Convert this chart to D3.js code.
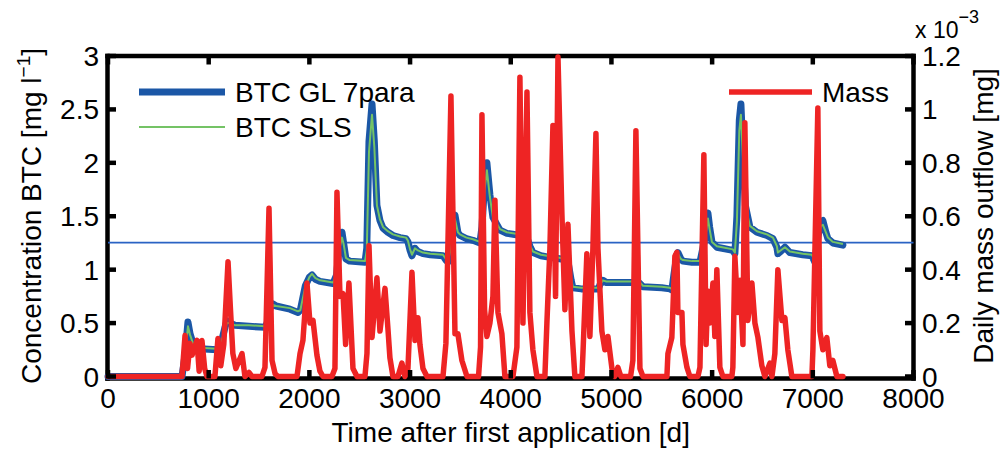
<!DOCTYPE html>
<html><head><meta charset="utf-8">
<script src="https://cdn.jsdelivr.net/npm/d3@7"></script>
<style>html,body{margin:0;padding:0;background:#fff;} svg{display:block;} text{font-family:"Liberation Sans",Arial,Helvetica,sans-serif;fill:#000;}</style>
</head><body>
<svg id="chart" width="1002" height="451"></svg>
<script>
// ---- data ----
const xTicks = [0,1000,2000,3000,4000,5000,6000,7000,8000];
const leftTicks = [0,0.5,1,1.5,2,2.5,3];
const leftTickLabels = ["0","0.5","1","1.5","2","2.5","3"];
const rightTicks = [0,0.2,0.4,0.6,0.8,1,1.2];
const rightTickLabels = ["0","0.2","0.4","0.6","0.8","1","1.2"];
const seriesNames = ["BTC GL 7para","BTC SLS","Mass"];
const refLevel = 1.253; // horizontal reference line, concentration units

// BTC GL 7para: [time d, conc mg/l]
const btcGL = [[0,0],[735,0],[765,0.2],[794,0.51],[815,0.4],[844,0.31],[870,0.27],[914,0.26],[1082,0.25],[1120,0.3],[1162,0.46],[1181,0.52],[1210,0.5],[1261,0.48],[1400,0.47],[1559,0.46],[1580,0.5],[1610,0.64],[1638,0.68],[1670,0.66],[1807,0.63],[1887,0.6],[1910,0.62],[1960,0.85],[2000,0.93],[2026,0.95],[2060,0.91],[2105,0.89],[2234,0.87],[2270,0.95],[2300,1.25],[2324,1.35],[2340,1.25],[2363,1.1],[2400,1.08],[2552,1.07],[2570,1.2],[2592,2.2],[2622,2.55],[2645,2.2],[2671,1.6],[2701,1.46],[2731,1.39],[2780,1.35],[2830,1.32],[2900,1.3],[2960,1.29],[2979,1.26],[3000,1.18],[3019,1.13],[3049,1.2],[3078,1.17],[3128,1.15],[3200,1.14],[3327,1.13],[3356,1.09],[3376,1.07],[3400,1.2],[3426,1.45],[3446,1.51],[3475,1.35],[3495,1.32],[3560,1.29],[3624,1.275],[3694,1.25],[3714,1.4],[3740,1.8],[3763,2.0],[3793,1.7],[3823,1.49],[3893,1.37],[3962,1.34],[4100,1.32],[4161,1.3],[4190,1.22],[4220,1.16],[4300,1.13],[4360,1.12],[4500,1.1],[4568,1.08],[4600,0.9],[4617,0.83],[4700,0.82],[4870,0.82],[4886,0.86],[4915,0.9],[4950,0.88],[5213,0.88],[5283,0.87],[5313,0.84],[5500,0.83],[5580,0.82],[5600,0.81],[5620,0.95],[5650,1.14],[5660,1.16],[5690,1.1],[5710,1.08],[5800,1.07],[5879,1.07],[5930,1.3],[5958,1.53],[5975,1.4],[5998,1.26],[6047,1.21],[6100,1.2],[6206,1.18],[6226,1.15],[6246,1.5],[6270,2.4],[6286,2.55],[6306,2.1],[6330,1.6],[6375,1.4],[6445,1.35],[6544,1.32],[6604,1.29],[6643,1.21],[6653,1.15],[6680,1.17],[6723,1.21],[6772,1.16],[6900,1.14],[6991,1.13],[7021,1.07],[7050,1.3],[7080,1.45],[7100,1.46],[7130,1.35],[7150,1.29],[7199,1.25],[7299,1.23]];

// BTC SLS: [time d, conc mg/l]
const btcSLS = [[0,0],[735,0],[765,0.18],[794,0.47],[815,0.39],[844,0.31],[870,0.28],[914,0.27],[1082,0.26],[1120,0.3],[1162,0.45],[1181,0.5],[1210,0.5],[1261,0.48],[1400,0.48],[1559,0.47],[1580,0.5],[1610,0.63],[1638,0.67],[1670,0.66],[1807,0.64],[1887,0.61],[1910,0.62],[1960,0.84],[2000,0.93],[2026,0.96],[2060,0.92],[2105,0.9],[2234,0.88],[2270,0.94],[2300,1.2],[2324,1.3],[2340,1.24],[2363,1.11],[2400,1.09],[2552,1.08],[2570,1.18],[2592,2.1],[2622,2.45],[2645,2.15],[2671,1.6],[2701,1.47],[2731,1.4],[2780,1.36],[2830,1.33],[2900,1.31],[2960,1.3],[2979,1.27],[3000,1.19],[3019,1.14],[3049,1.2],[3078,1.18],[3128,1.16],[3200,1.15],[3327,1.14],[3356,1.1],[3376,1.08],[3400,1.18],[3426,1.42],[3446,1.47],[3475,1.35],[3495,1.33],[3560,1.3],[3624,1.285],[3694,1.26],[3714,1.38],[3740,1.75],[3763,1.93],[3793,1.68],[3823,1.49],[3893,1.38],[3962,1.35],[4100,1.33],[4161,1.31],[4190,1.23],[4220,1.17],[4300,1.14],[4360,1.13],[4500,1.11],[4568,1.09],[4600,0.91],[4617,0.84],[4700,0.83],[4870,0.83],[4886,0.86],[4915,0.9],[4950,0.89],[5213,0.89],[5283,0.88],[5313,0.85],[5500,0.84],[5580,0.83],[5600,0.82],[5620,0.94],[5650,1.12],[5660,1.15],[5690,1.1],[5710,1.09],[5800,1.08],[5879,1.08],[5930,1.28],[5958,1.48],[5975,1.38],[5998,1.26],[6047,1.22],[6100,1.21],[6206,1.19],[6226,1.16],[6246,1.45],[6270,2.3],[6286,2.45],[6306,2.05],[6330,1.6],[6375,1.41],[6445,1.36],[6544,1.33],[6604,1.3],[6643,1.22],[6653,1.16],[6680,1.18],[6723,1.21],[6772,1.17],[6900,1.15],[6991,1.14],[7021,1.08],[7050,1.28],[7080,1.41],[7100,1.42],[7130,1.35],[7150,1.3],[7199,1.26],[7299,1.24]];

// Mass: [time d, daily mass outflow x 10^-3 mg]
const mass = [[0,0],[735,0],[765,0.154],[790,0.03],[814,0.124],[835,0.08],[884,0.135],[905,0.02],[933,0.135],[960,0.03],[983,0],[1062,0],[1092,0.142],[1120,0.04],[1150,0.12],[1192,0.43],[1215,0.26],[1240,0.086],[1270,0.03],[1331,0.086],[1360,0],[1400,0.015],[1430,0],[1529,0],[1559,0.034],[1599,0.63],[1629,0.06],[1660,0.01],[1688,0],[1877,0],[1907,0.086],[1936,0.135],[1976,0.35],[2006,0.2],[2036,0.21],[2075,0.08],[2105,0.02],[2135,0],[2224,0],[2254,0.03],[2274,0.69],[2304,0.3],[2334,0.31],[2360,0.12],[2393,0.35],[2433,0.03],[2473,0],[2552,0],[2572,0.086],[2592,0.49],[2622,0.146],[2671,0.37],[2701,0.17],[2751,0.33],[2780,0.18],[2800,0.07],[2830,0],[2880,0],[2919,0.05],[2949,0],[2979,0.03],[3019,0.39],[3049,0.135],[3078,0.22],[3098,0.12],[3128,0.03],[3168,0],[3327,0],[3356,0.124],[3406,1.05],[3446,0.16],[3475,0.16],[3515,0.06],[3565,0],[3680,0],[3700,0.11],[3714,0.98],[3740,0.25],[3763,0.15],[3793,0.2],[3823,0.3],[3843,0.66],[3873,0.24],[3912,0.16],[3942,0],[4022,0],[4061,0.11],[4091,1.12],[4121,0.2],[4161,1.065],[4190,0.24],[4220,0.1],[4260,0],[4339,0],[4359,0.2],[4389,0.48],[4419,0.94],[4445,0.3],[4469,1.196],[4508,0.61],[4538,0.25],[4568,0.57],[4608,0.17],[4637,0],[4707,0],[4717,0.086],[4756,0.46],[4786,0.15],[4816,0.48],[4846,0.91],[4866,0.48],[4905,0.17],[4935,0.1],[4965,0.15],[5005,0.03],[5034,0],[5064,0.034],[5094,0],[5190,0],[5213,0.06],[5243,0.92],[5283,0.03],[5313,0],[5551,0],[5561,0.086],[5600,0.146],[5630,0.45],[5650,0.465],[5660,0.24],[5700,0.24],[5710,0.12],[5750,0.034],[5779,0],[5859,0],[5879,0.034],[5918,0.83],[5940,0.12],[5958,0.32],[5978,0.2],[6008,0.35],[6027,0.15],[6047,0.4],[6077,0.034],[6107,0],[6196,0],[6206,0.034],[6226,0.45],[6256,0.24],[6276,0.36],[6306,0.12],[6325,0.95],[6355,0.21],[6395,0.35],[6425,0.2],[6455,0.146],[6494,0.04],[6524,0],[6574,0.05],[6594,0],[6623,0.086],[6653,0.4],[6693,0.21],[6723,0.22],[6752,0.1],[6792,0],[6991,0],[7001,0.1],[7050,1.005],[7070,0.17],[7100,0.1],[7139,0.146],[7169,0.04],[7199,0.06],[7239,0],[7299,0]];

// ---- drawing ----
const W = 1002, H = 451;
const L = 108, R = 913.5, T = 56, B = 376.5;
const svg = d3.select("#chart");
svg.append("rect").attr("width",W).attr("height",H).attr("fill","#fff");

const x = d3.scaleLinear().domain([0,8000]).range([L,R]);
const yL = d3.scaleLinear().domain([0,3]).range([B,T]);
const yR = d3.scaleLinear().domain([0,1.2]).range([B,T]);

const cBlue = "#1b57a6", cGreen = "#74c365", cRed = "#ee2424", cRef = "#2a63c4";
const FS = 28;

// box lines
const box = svg.append("g").attr("stroke","#000").attr("stroke-width",4.5).attr("stroke-linecap","square");
box.append("line").attr("x1",L-0.5).attr("x2",R).attr("y1",B+2).attr("y2",B+2);
box.append("line").attr("x1",L-0.5).attr("x2",R).attr("y1",T).attr("y2",T);
box.append("line").attr("x1",L-0.5).attr("x2",L-0.5).attr("y1",T).attr("y2",B+2);
box.append("line").attr("x1",R).attr("x2",R).attr("y1",T).attr("y2",B+2);

// reference line
svg.append("line").attr("x1",x(0)).attr("x2",x(8000)).attr("y1",yL(refLevel)).attr("y2",yL(refLevel))
  .attr("stroke",cRef).attr("stroke-width",1.6);

const lineL = d3.line().x(d=>x(d[0])).y(d=>yL(d[1]));
const lineR = d3.line().x(d=>x(d[0])).y(d=>yR(d[1]));

svg.append("path").datum(btcGL).attr("d",lineL).attr("fill","none").attr("stroke",cBlue)
  .attr("stroke-width",7).attr("stroke-linejoin","round").attr("stroke-linecap","round");
svg.append("path").datum(btcSLS).attr("d",lineL).attr("fill","none").attr("stroke",cGreen)
  .attr("stroke-width",2).attr("stroke-linejoin","round");
svg.append("path").datum(mass).attr("d",lineR).attr("fill","none").attr("stroke",cRed)
  .attr("stroke-width",5.5).attr("stroke-linejoin","round").attr("stroke-linecap","round");

// ticks (inward)
const tk = svg.append("g").attr("stroke","#000").attr("stroke-width",4.5);
const TL = 8.5;
xTicks.forEach(t=>{
  tk.append("line").attr("x1",x(t)).attr("x2",x(t)).attr("y1",B+2).attr("y2",B+2-TL);
  tk.append("line").attr("x1",x(t)).attr("x2",x(t)).attr("y1",T).attr("y2",T+TL);
});
leftTicks.forEach(v=>{
  tk.append("line").attr("x1",L-0.5).attr("x2",L-0.5+TL).attr("y1",yL(v)).attr("y2",yL(v));
});
rightTicks.forEach(v=>{
  tk.append("line").attr("x1",R).attr("x2",R-TL).attr("y1",yR(v)).attr("y2",yR(v));
});

// tick labels
const lab = svg.append("g").attr("font-size",FS);
xTicks.forEach(t=>{
  lab.append("text").attr("x",x(t)).attr("y",408).attr("text-anchor","middle").text(String(t));
});
leftTicks.forEach((v,i)=>{
  lab.append("text").attr("x",99).attr("y",yL(v)+10).attr("text-anchor","end").text(leftTickLabels[i]);
});
rightTicks.forEach((v,i)=>{
  lab.append("text").attr("x",922).attr("y",yR(v)+10).attr("text-anchor","start").text(rightTickLabels[i]);
});

// exponent
const ex = svg.append("text").attr("x",915).attr("y",38).attr("font-size",23);
ex.append("tspan").text("x 10");
ex.append("tspan").attr("dy",-15).attr("font-size",18).text("\u22123");

// axis titles
svg.append("text").attr("text-anchor","middle").attr("font-size",FS)
  .attr("x",(L+R)/2).attr("y",442).text("Time after first application [d]");
const lt = svg.append("text").attr("text-anchor","middle").attr("font-size",FS)
  .attr("transform","translate(41,216) rotate(-90)");
lt.append("tspan").text("Concentration BTC [mg l");
lt.append("tspan").attr("dy",-11).attr("font-size",19).text("\u22121");
lt.append("tspan").attr("dy",11).text("]");
svg.append("text").attr("text-anchor","middle").attr("font-size",FS)
  .attr("transform","translate(993,216) rotate(-90)").text("Daily mass outflow [mg]");

// legend
const lg = svg.append("g");
lg.append("line").attr("x1",139).attr("x2",225).attr("y1",92).attr("y2",92).attr("stroke",cBlue).attr("stroke-width",7);
lg.append("text").attr("x",235).attr("y",102).attr("font-size",FS).text(seriesNames[0]);
lg.append("line").attr("x1",139).attr("x2",225).attr("y1",127).attr("y2",127).attr("stroke",cGreen).attr("stroke-width",2);
lg.append("text").attr("x",235).attr("y",137).attr("font-size",FS).text(seriesNames[1]);
lg.append("line").attr("x1",729).attr("x2",812).attr("y1",92).attr("y2",92).attr("stroke",cRed).attr("stroke-width",5.5);
lg.append("text").attr("x",822).attr("y",102).attr("font-size",FS).text(seriesNames[2]);
</script>
</body></html>
